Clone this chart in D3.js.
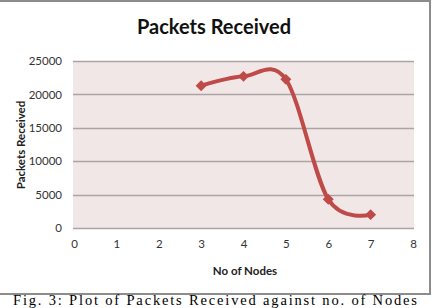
<!DOCTYPE html>
<html>
<head>
<meta charset="utf-8">
<script src="https://cdn.jsdelivr.net/npm/d3@7"></script>
<style>
  body { margin: 0; background: #fff; }
  svg { display: block; }
</style>
</head>
<body>
<script>
let width = 434;
let height = 308;

// data
const nodes = [3, 4, 5, 6, 7];
const packets = [21300, 22700, 22250, 4300, 2000];
const xTicks = [0, 1, 2, 3, 4, 5, 6, 7, 8];
const yTicks = [0, 5000, 10000, 15000, 20000, 25000];

const lineColor = "#be4b48";
const plot = { left: 73, right: 414, top: 61, bottom: 228 };

let svg = d3.select("body")
  .append("svg")
  .attr("width", width)
  .attr("height", height);

// chart frame (top, right, bottom edges visible)
svg.append("path")
  .attr("d", `M0,1 H430 V294 H0`)
  .style("fill", "none")
  .style("stroke", "#8c8c8c")
  .style("stroke-width", 2);

let scaleX = d3.scaleLinear()
  .domain([0, 8])
  .range([plot.left + 1, plot.right - 1]);

let scaleY = d3.scaleLinear()
  .domain([0, 25000])
  .range([plot.bottom, plot.top]);

// plot area
svg.append("rect")
  .attr("x", plot.left)
  .attr("y", plot.top)
  .attr("width", plot.right - plot.left)
  .attr("height", plot.bottom - plot.top)
  .style("fill", "#f2e7e7");

// grid lines
svg.append("g")
  .selectAll("line")
  .data(yTicks)
  .join("line")
  .attr("x1", plot.left)
  .attr("x2", plot.right)
  .attr("y1", d => Math.round(scaleY(d)) + 0.5)
  .attr("y2", d => Math.round(scaleY(d)) + 0.5)
  .style("stroke", "#aaa4a4")
  .style("stroke-width", 1.3);

// axes (labels only)
let axisY = d3.axisLeft(scaleY).tickValues(yTicks).tickFormat(d3.format("d"))
  .tickSize(0).tickPadding(0);
let gy = svg.append("g")
  .attr("transform", `translate(${plot.left - 11}, 0)`)
  .call(axisY);
gy.select(".domain").remove();
gy.selectAll("text")
  .style("font-family", "Lato, 'Open Sans', sans-serif")
  .style("font-size", "11.5px")
  .style("fill", "#333");

let axisX = d3.axisBottom(scaleX).tickValues(xTicks).tickSize(0).tickPadding(0);
let gx = svg.append("g")
  .attr("transform", `translate(0, 240)`)
  .call(axisX);
gx.select(".domain").remove();
gx.selectAll("text")
  .style("font-family", "Lato, 'Open Sans', sans-serif")
  .style("font-size", "11.5px")
  .style("fill", "#333");

// smoothed line
let points = nodes.map((n, i) => ({ x: n, y: packets[i] }));
let line = d3.line()
  .x(d => scaleX(d.x))
  .y(d => scaleY(d.y))
  .curve(d3.curveCardinal.tension(0));

svg.append("path")
  .datum(points)
  .attr("d", line)
  .style("fill", "none")
  .style("stroke", lineColor)
  .style("stroke-width", 4)
  .style("stroke-linecap", "round");

// diamond markers
svg.append("g")
  .selectAll("path")
  .data(points)
  .join("path")
  .attr("d", d3.symbol(d3.symbolSquare, 60))
  .attr("transform", d => `translate(${scaleX(d.x)}, ${scaleY(d.y)}) rotate(45)`)
  .style("fill", lineColor);

// titles
svg.append("text")
  .attr("x", 214)
  .attr("y", 34)
  .attr("text-anchor", "middle")
  .style("font-family", "Lato, 'Open Sans', sans-serif")
  .style("font-weight", "bold")
  .style("font-size", "20px")
  .style("fill", "#111")
  .text("Packets Received");

svg.append("text")
  .attr("x", 245)
  .attr("y", 275)
  .attr("text-anchor", "middle")
  .style("font-family", "Lato, 'Open Sans', sans-serif")
  .style("font-weight", "bold")
  .style("font-size", "11.5px")
  .style("fill", "#222")
  .text("No of Nodes");

svg.append("text")
  .attr("transform", "translate(25, 145) rotate(-90)")
  .attr("text-anchor", "middle")
  .style("font-family", "Lato, 'Open Sans', sans-serif")
  .style("font-weight", "bold")
  .style("font-size", "11.5px")
  .style("fill", "#222")
  .text("Packets Received");

// figure caption
svg.append("text")
  .attr("x", 13)
  .attr("y", 304.5)
  .attr("textLength", 404)
  .attr("lengthAdjust", "spacing")
  .style("font-family", "'Liberation Serif', serif")
  .style("font-size", "14.5px")
  .style("fill", "#000")
  .text("Fig. 3: Plot of Packets Received against no. of Nodes");
</script>
</body>
</html>
